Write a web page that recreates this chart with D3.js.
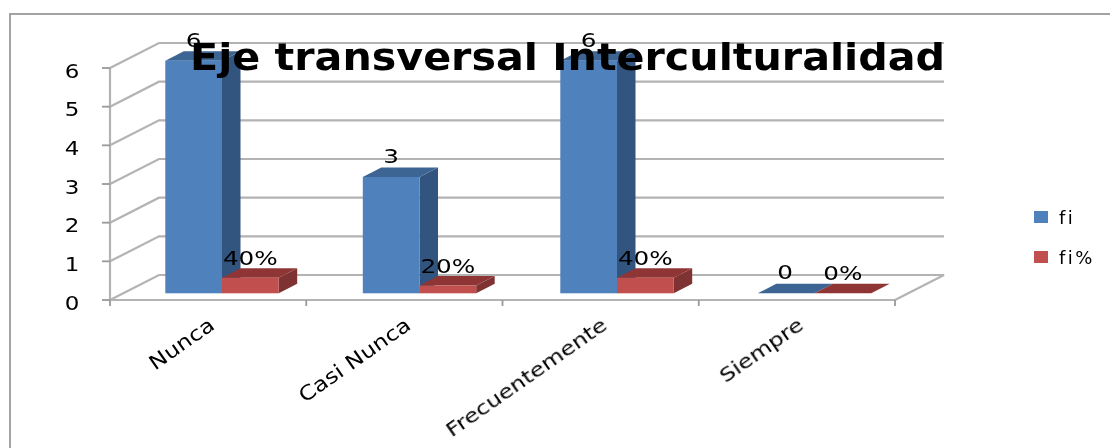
<!DOCTYPE html>
<html><head><meta charset="utf-8">
<script src="https://cdn.jsdelivr.net/npm/d3@7"></script>
<style>html,body{margin:0;padding:0;background:#fff;overflow:hidden}svg{display:block}text{font-family:"DejaVu Sans",sans-serif;fill:#000}</style>
</head><body><svg id="c" width="1110" height="448"></svg>
<script>
const categories = ["Nunca","Casi Nunca","Frecuentemente","Siempre"];
const fi = [6,3,6,0];
const fiPct = [0.4,0.2,0.4,0];
const fiLabels = ["6","3","6","0"];
const fiPctLabels = ["40%","20%","40%","0%"];
const yTicks = [0,1,2,3,4,5,6];
const seriesNames = ["fi","fi%"];
const titleText = "Eje transversal Interculturalidad";

const svg = d3.select("#c");
const defs = svg.append("defs");
defs.append("filter").attr("id","soft").append("feGaussianBlur").attr("stdDeviation",0.6);
defs.append("filter").attr("id","softText").append("feGaussianBlur").attr("stdDeviation",0.35);

svg.append("path").attr("d","M10,448V14H1110").attr("fill","none").attr("stroke","#a3a3a3").attr("stroke-width",2);

const x = d3.scaleLinear().domain([0,4]).range([110,895]);
const xBar = d3.scaleLinear().domain([0,4]).range([165.3,955.3]);
const y = d3.scaleLinear().domain([0,6]).range([300,68]);
const yBar = d3.scaleLinear().domain([0,6]).range([293.3,60.7]);
const wall = {dx:49,dy:-25};
const depth = {dx:18.5,dy:-9.5};
const barW = 56.7;

const g = svg.append("g").attr("filter","url(#soft)");
const gridC = "#b3b3b3";
g.selectAll(".grid").data(yTicks).join("path").attr("class","grid")
 .attr("d",t=>{const a=y(t);return `M${x(0)},${a}L${x(0)+wall.dx},${a+wall.dy}H${x(4)+wall.dx}`+(t===0?`L${x(4)},${a}`:"");})
 .attr("fill","none").attr("stroke",gridC).attr("stroke-width",2.2);
g.append("line").attr("x1",x(0)).attr("x2",x(4)).attr("y1",y(0)).attr("y2",y(0)).attr("stroke",gridC).attr("stroke-width",2.2);
g.append("line").attr("x1",x(0)).attr("x2",x(0)).attr("y1",y(0)).attr("y2",y(6)).attr("stroke",gridC).attr("stroke-width",2.2);
g.selectAll(".yt").data(yTicks).join("line").attr("x1",x(0)-8).attr("x2",x(0)).attr("y1",t=>y(t)).attr("y2",t=>y(t)).attr("stroke","#999").attr("stroke-width",1.8);
g.selectAll(".xt").data(d3.range(5)).join("line").attr("x1",i=>x(i)).attr("x2",i=>x(i)).attr("y1",y(0)).attr("y2",y(0)+6).attr("stroke","#999").attr("stroke-width",1.8);

function bar(vals,off,front,top,side){
  const s = g.append("g");
  vals.forEach((v,i)=>{
    const l=xBar(i)+off, r=l+barW, b=yBar(0), t=yBar(v);
    s.append("path").attr("d",`M${r},${b}V${t}l${depth.dx},${depth.dy}V${b+depth.dy}Z`).attr("fill",side);
    s.append("path").attr("d",`M${l},${t}H${r}l${depth.dx},${depth.dy}H${l+depth.dx}Z`).attr("fill",top);
    s.append("rect").attr("x",l).attr("y",t).attr("width",barW).attr("height",b-t).attr("fill",front);
  });
}
bar(fi,0,"#4f81bd","#3d6594","#335580");
bar(fiPct,barW,"#c0504d","#8f3634","#7f3231");

const t = svg.append("g").attr("filter","url(#softText)");
const stretch = (sel,px,py,sx)=>sel.attr("transform",`translate(${px},${py}) scale(${sx},1)`);
t.selectAll(".yl").data(yTicks).join("text").attr("class","yl").attr("text-anchor","middle").attr("font-size",20).text(d=>d)
 .each(function(v){stretch(d3.select(this),72,y(v)+9.5,1.15);});
const lab = (s,px,py)=>stretch(t.append("text").attr("text-anchor","middle").attr("font-size",19).text(s),px,py,1.3);
fi.forEach((v,i)=>lab(fiLabels[i],xBar(i)+barW/2+(i===3?-1:0),yBar(v)-14));
fiPct.forEach((v,i)=>lab(fiPctLabels[i],xBar(i)+barW*1.5,yBar(v)-13));

t.selectAll(".xl").data(categories).join("text").attr("class","xl").attr("text-anchor","end").attr("font-size",20).text(d=>d)
 .attr("transform",(d,i)=>`translate(${x(i)+106},${y(0)+28}) rotate(-35) scale(1.17,1)`);

t.append("text").attr("x",190).attr("y",70).attr("font-size",38).attr("font-weight","bold").attr("textLength",755).attr("lengthAdjust","spacingAndGlyphs").text(titleText);

seriesNames.forEach((n,i)=>{
  svg.append("rect").attr("x",1034).attr("y",211+i*40).attr("width",14).attr("height",12).attr("fill",i?"#c0504d":"#4f81bd");
  t.append("text").attr("x",1059).attr("y",224+i*40).attr("font-size",18).attr("letter-spacing",2.5).text(n);
});
</script></body></html>
